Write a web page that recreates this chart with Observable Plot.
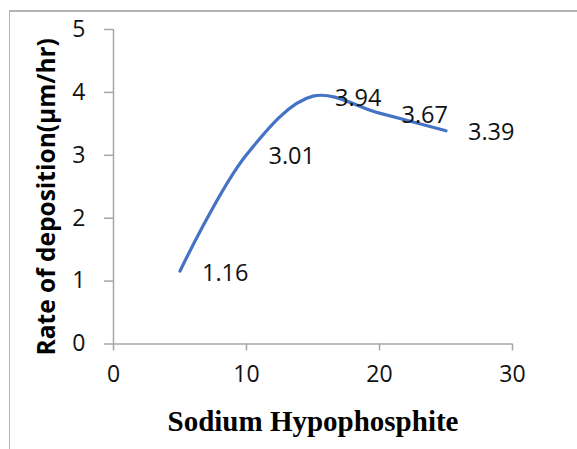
<!DOCTYPE html>
<html>
<head>
<meta charset="utf-8">
<script src="https://cdn.jsdelivr.net/npm/d3@7"></script>
<script src="https://cdn.jsdelivr.net/npm/@observablehq/plot@0.6"></script>
<style>
  html, body { margin: 0; padding: 0; background: #fff; }
  #wrap { position: relative; width: 577px; height: 449px; overflow: hidden; }
  #frame { position: absolute; left: 9px; top: 10px; width: 600px; height: 500px;
           border-top: 2px solid #b4b4b4; border-left: 1.5px solid #b4b4b4; box-sizing: border-box; }
  #chart { position: absolute; left: 0; top: 0; }
</style>
</head>
<body>
<div id="wrap"><div id="frame"></div><div id="chart"></div></div>
<script>
// Sodium hypophosphite concentration vs. rate of deposition
const concentration = [5, 10, 15, 20, 25];
const depositionRate = [1.16, 3.01, 3.94, 3.67, 3.39];
const xTicks = [0, 10, 20, 30];
const yTicks = [0, 1, 2, 3, 4, 5];
const xTitle = "Sodium Hypophosphite";
const yTitle = "Rate of deposition(µm/hr)";

const rows = concentration.map((c, i) => ({x: c, y: depositionRate[i]}));
const axisColor = "#a6a6a6";
const sans = "'Open Sans', sans-serif";

const chart = Plot.plot({
  width: 577,
  height: 449,
  marginLeft: 113,
  marginRight: 65,
  marginTop: 29,
  marginBottom: 105.5,
  style: {fontFamily: sans, background: "transparent", overflow: "visible"},
  x: {domain: [0, 30]},
  y: {domain: [0, 5]},
  marks: [
    Plot.ruleX([0], {y1: 0, y2: 5, stroke: axisColor, strokeWidth: 1.5}),
    Plot.ruleY([0], {x1: 0, x2: 30, stroke: axisColor, strokeWidth: 1.5}),
    Plot.axisX({ticks: xTicks, tickFormat: d => String(d), tickSize: 7, tickPadding: 15,
      stroke: axisColor, strokeWidth: 1.5, fill: "#111", fontSize: 23, fontFamily: sans, label: null}),
    Plot.axisY({ticks: yTicks, tickFormat: d => String(d), tickSize: 9, tickPadding: 19,
      stroke: axisColor, strokeWidth: 1.5, fill: "#111", fontSize: 23, fontFamily: sans, label: null}),
    Plot.line(rows, {x: "x", y: "y", curve: "catmull-rom", stroke: "#4472c4", strokeWidth: 3.2}),
    Plot.text(rows, {x: "x", y: "y", text: d => d.y.toFixed(2), dx: 22, dy: 2,
      textAnchor: "start", fontSize: 23.5, fontFamily: sans, fill: "#111"}),
    Plot.text([xTitle], {frameAnchor: "bottom", dy: 87, fontSize: 29, fontWeight: "bold",
      fontFamily: "'Liberation Serif', 'Times New Roman', serif", fill: "#000"}),
    Plot.text([yTitle], {frameAnchor: "left", textAnchor: "middle", lineAnchor: "middle",
      dx: -66, dy: 10, rotate: -90, fontSize: 24.5, fontWeight: "bold", fontFamily: sans, fill: "#000"})
  ]
});
document.getElementById("chart").appendChild(chart);
</script>
</body>
</html>
